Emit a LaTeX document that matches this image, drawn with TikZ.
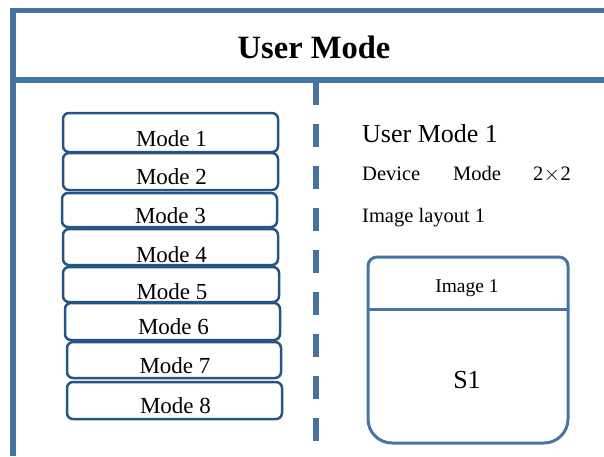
\documentclass[tikz,border=0pt]{standalone}
\usepackage{fontspec}
\setmainfont{Liberation Serif}
\definecolor{frameblue}{RGB}{70,114,160}
\definecolor{modeblue}{RGB}{40,84,133}
\definecolor{imgblue}{RGB}{72,116,165}
\tikzset{
  frameline/.style={draw=frameblue, line width=5.5pt},
  divline/.style={draw=frameblue, line width=6pt, dash pattern=on 23pt off 19pt},
  modebox/.style={draw=modeblue, line width=2.5pt, rounded corners=6pt, inner sep=0pt},
  modetext/.style={anchor=base, inner sep=0pt, font=\fontsize{23}{26}\selectfont},
  imgbox/.style={draw=imgblue, line width=3pt},
  rtext/.style={anchor=base west, inner sep=0pt, font=\fontsize{20.5}{24}\selectfont},
}
\begin{document}
\begin{tikzpicture}[x=1pt,y=-1pt]
\useasboundingbox (0,0) rectangle (604,456);
% frame
\coordinate (ftl) at (13,8);
\coordinate (ftr) at (604,10.5);
\coordinate (fbl) at (13,456);
\draw[frameline] (13,10.5) -- (ftr);
\draw[frameline, line width=6pt] (fbl) -- (ftl);
\coordinate (sl) at (13,79.5);
\coordinate (sr) at (604,79.5);
\draw[frameline, line width=6pt] (sl) -- (sr);
\node[anchor=base, inner sep=0pt, font=\bfseries\fontsize{32.5}{36}\selectfont] (title) at (314,58) {User Mode};
% dashed divider
\coordinate (dtop) at (316,82);
\coordinate (dbot) at (316,442);
\draw[divline] (dtop) -- (dbot);
% mode boxes
\foreach \i/\xa/\ya/\xb/\yb/\bl in {1/63/113/278/152/146, 2/63/153/278/190/184, 3/62/193/277/227/223, 4/63/229/278/265/262, 5/63/267/279/302/299, 6/65/303/280/340/334, 7/67/342/281/378/373, 8/67/382/282/419/413}{
  \node[modebox, minimum width=\xb-\xa, minimum height=\yb-\ya] (m\i) at ({(\xa+\xb)/2},{(\ya+\yb)/2}) {};
  \node[modetext] (mt\i) at ({(\xa+\xb)/2+1},\bl) {Mode \i};
}
% right panel texts
\node[anchor=base west, inner sep=0pt, font=\fontsize{26}{30}\selectfont] (um1) at (362,142) {User Mode 1};
\node[rtext] (dev) at (362,180) {Device};
\node[rtext] (mode) at (453,180) {Mode};
\node[rtext] (dim) at (533,180) {2\kern0.5pt$\times$\kern0.5pt2};
\node[rtext] (lay) at (362,222) {Image layout 1};
% image box
\draw[imgbox, rounded corners=9pt] (368,309) -- (368,257) -- (568,257) -- (568,309);
\draw[imgbox, rounded corners=24pt] (568,309) -- (568,443) -- (368,443) -- (368,309);
\coordinate (isl) at (368,309);
\coordinate (isr) at (568,309);
\draw[imgbox] (isl) -- (isr);
\node[anchor=base, inner sep=0pt, font=\fontsize{19.5}{22}\selectfont] (img1) at (467,292) {Image 1};
\node[anchor=base, inner sep=0pt, font=\fontsize{26}{30}\selectfont] (s1) at (467,388) {S1};
\end{tikzpicture}
\end{document}
